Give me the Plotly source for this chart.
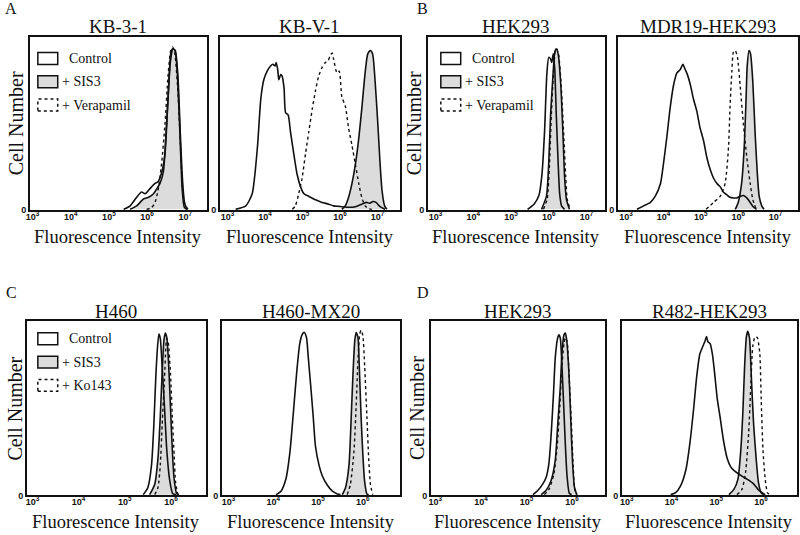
import plotly.graph_objects as go

W, H = 800, 535

# ---------------- data (x = log10 fluorescence, y = relative cell number) ----------
# A  KB-3-1
kb31_ctrl_x = [5.23, 5.40, 5.57, 5.70, 5.79, 5.92, 6.05, 6.13, 6.22, 6.31, 6.37, 6.42, 6.46, 6.51, 6.57, 6.63, 6.70, 6.76, 6.82, 6.90]
kb31_ctrl_y = [0, 0.02, 0.07, 0.10, 0.09, 0.12, 0.15, 0.16, 0.21, 0.32, 0.55, 0.77, 0.90, 0.93, 0.92, 0.80, 0.45, 0.12, 0.01, 0]
kb31_sis_x = [5.40, 5.57, 5.75, 5.88, 6.01, 6.10, 6.18, 6.27, 6.33, 6.39, 6.45, 6.52, 6.58, 6.65, 6.71, 6.77, 6.83, 6.91]
kb31_sis_y = [0, 0.02, 0.06, 0.07, 0.09, 0.12, 0.15, 0.22, 0.41, 0.64, 0.85, 0.93, 0.92, 0.77, 0.45, 0.17, 0.03, 0]
kb31_mod_x = [5.83, 5.96, 6.05, 6.13, 6.22, 6.31, 6.39, 6.46, 6.51, 6.57, 6.66, 6.73, 6.79, 6.87]
kb31_mod_y = [0, 0.01, 0.04, 0.11, 0.26, 0.49, 0.77, 0.92, 0.94, 0.90, 0.64, 0.30, 0.07, 0]

# A  KB-V-1
kbv1_ctrl_x = [3.06, 3.33, 3.50, 3.64, 3.73, 3.81, 3.90, 3.99, 4.05, 4.11, 4.14, 4.18, 4.21, 4.26, 4.30, 4.35, 4.39, 4.46, 4.52, 4.61, 4.70, 4.79, 4.88, 5.01, 5.19, 5.36, 5.54, 5.67, 5.81, 5.89, 6.07, 6.25, 6.42, 6.55, 6.62, 6.72, 6.80, 6.91, 7.04]
kbv1_ctrl_y = [0, 0.02, 0.09, 0.36, 0.64, 0.75, 0.80, 0.83, 0.84, 0.83, 0.85, 0.81, 0.75, 0.78, 0.77, 0.70, 0.56, 0.545, 0.45, 0.32, 0.20, 0.13, 0.09, 0.075, 0.055, 0.04, 0.03, 0.02, 0.017, 0.015, 0.012, 0.015, 0.03, 0.04, 0.035, 0.045, 0.04, 0.015, 0]
kbv1_sis_x = [5.89, 5.98, 6.07, 6.16, 6.25, 6.34, 6.42, 6.51, 6.58, 6.65, 6.71, 6.78, 6.85, 6.91, 6.96, 7.03, 7.09]
kbv1_sis_y = [0, 0.02, 0.07, 0.15, 0.26, 0.41, 0.58, 0.79, 0.90, 0.92, 0.90, 0.73, 0.49, 0.26, 0.11, 0.02, 0]
kbv1_mod_x = [4.57, 4.65, 4.74, 4.83, 4.92, 5.01, 5.10, 5.19, 5.27, 5.36, 5.45, 5.52, 5.58, 5.63, 5.67, 5.76, 5.82, 5.89, 5.98, 6.07, 6.16, 6.25, 6.34, 6.42, 6.51, 6.60, 6.69]
kbv1_mod_y = [0, 0.02, 0.09, 0.18, 0.32, 0.45, 0.58, 0.69, 0.77, 0.82, 0.85, 0.86, 0.89, 0.905, 0.87, 0.79, 0.80, 0.65, 0.60, 0.47, 0.37, 0.26, 0.15, 0.07, 0.02, 0.004, 0]

# B  HEK293
hekb_ctrl_x = [5.28, 5.45, 5.58, 5.66, 5.73, 5.79, 5.84, 5.89, 5.92, 5.96, 6.00, 6.04, 6.09, 6.13, 6.18, 6.26]
hekb_ctrl_y = [0, 0.03, 0.08, 0.20, 0.45, 0.78, 0.88, 0.87, 0.85, 0.90, 0.81, 0.55, 0.27, 0.09, 0.02, 0]
hekb_sis_x = [5.65, 5.78, 5.84, 5.89, 5.96, 6.00, 6.04, 6.09, 6.16, 6.22, 6.26, 6.31, 6.39]
hekb_sis_y = [0, 0.076, 0.265, 0.55, 0.80, 0.91, 0.93, 0.90, 0.72, 0.42, 0.19, 0.057, 0]
hekb_mod_x = [5.70, 5.80, 5.86, 5.91, 5.97, 6.01, 6.05, 6.10, 6.17, 6.24, 6.29, 6.33, 6.41]
hekb_mod_y = [0, 0.06, 0.26, 0.55, 0.80, 0.91, 0.93, 0.90, 0.72, 0.42, 0.19, 0.06, 0]

# B  MDR19-HEK293
mdr_ctrl_x = [3.13, 3.31, 3.49, 3.62, 3.76, 3.84, 3.93, 4.02, 4.11, 4.20, 4.29, 4.36, 4.42, 4.48, 4.56, 4.64, 4.73, 4.82, 4.91, 5.00, 5.09, 5.18, 5.27, 5.36, 5.44, 5.53, 5.62, 5.71, 5.80, 5.89, 5.98, 6.07, 6.16, 6.24, 6.33]
mdr_ctrl_y = [0, 0.02, 0.04, 0.076, 0.15, 0.265, 0.42, 0.59, 0.72, 0.79, 0.81, 0.84, 0.81, 0.78, 0.72, 0.64, 0.57, 0.47, 0.40, 0.30, 0.23, 0.18, 0.15, 0.13, 0.10, 0.085, 0.07, 0.066, 0.066, 0.075, 0.08, 0.066, 0.04, 0.015, 0]
mdr_sis_x = [5.76, 5.84, 5.93, 6.00, 6.05, 6.08, 6.13, 6.17, 6.23, 6.29, 6.35, 6.40, 6.47, 6.53]
mdr_sis_y = [0, 0.04, 0.15, 0.36, 0.64, 0.83, 0.92, 0.90, 0.74, 0.45, 0.21, 0.076, 0.02, 0]
mdr_mod_x = [4.98, 5.18, 5.36, 5.49, 5.58, 5.62, 5.67, 5.71, 5.76, 5.82, 5.89, 5.98, 6.07, 6.16, 6.23, 6.32]
mdr_mod_y = [0, 0.04, 0.076, 0.15, 0.36, 0.59, 0.80, 0.91, 0.92, 0.88, 0.72, 0.49, 0.30, 0.15, 0.057, 0]

# C  H460
h460_ctrl_x = [5.27, 5.37, 5.45, 5.50, 5.54, 5.58, 5.61, 5.64, 5.68, 5.73, 5.78, 5.84, 5.91, 5.99]
h460_ctrl_y = [0, 0.04, 0.17, 0.40, 0.66, 0.85, 0.925, 0.90, 0.74, 0.51, 0.26, 0.09, 0.005, 0]
h460_sis_x = [5.41, 5.52, 5.59, 5.64, 5.68, 5.72, 5.75, 5.78, 5.82, 5.86, 5.90, 5.94, 5.99, 6.04]
h460_sis_y = [0, 0.06, 0.21, 0.45, 0.70, 0.89, 0.93, 0.905, 0.755, 0.51, 0.26, 0.09, 0.01, 0]
h460_mod_x = [5.52, 5.59, 5.64, 5.68, 5.73, 5.76, 5.78, 5.81, 5.86, 5.90, 5.94, 5.97, 6.02]
h460_mod_y = [0, 0.04, 0.17, 0.40, 0.66, 0.85, 0.90, 0.88, 0.70, 0.45, 0.23, 0.075, 0]

# C  H460-MX20
mx20_ctrl_x = [3.93, 4.04, 4.15, 4.24, 4.31, 4.39, 4.46, 4.52, 4.56, 4.61, 4.65, 4.70, 4.76, 4.81, 4.89, 4.96, 5.07, 5.19, 5.30, 5.37]
mx20_ctrl_y = [0, 0.02, 0.09, 0.245, 0.45, 0.70, 0.87, 0.925, 0.934, 0.905, 0.79, 0.64, 0.45, 0.28, 0.17, 0.11, 0.057, 0.02, 0.004, 0]
mx20_sis_x = [5.41, 5.48, 5.56, 5.61, 5.65, 5.69, 5.72, 5.76, 5.79, 5.83, 5.87, 5.91, 5.96, 6.00]
mx20_sis_y = [0, 0.038, 0.17, 0.45, 0.70, 0.89, 0.934, 0.905, 0.74, 0.45, 0.23, 0.075, 0.004, 0]
mx20_mod_x = [5.52, 5.59, 5.67, 5.72, 5.76, 5.80, 5.83, 5.87, 5.91, 5.96, 6.00, 6.04, 6.09]
mx20_mod_y = [0, 0.057, 0.245, 0.51, 0.77, 0.925, 0.947, 0.915, 0.74, 0.45, 0.21, 0.057, 0]

# D  HEK293
hekd_ctrl_x = [5.01, 5.12, 5.23, 5.30, 5.36, 5.41, 5.46, 5.50, 5.55, 5.58, 5.61, 5.64, 5.68, 5.72, 5.76, 5.81, 5.86]
hekd_ctrl_y = [0, 0.025, 0.063, 0.10, 0.18, 0.35, 0.58, 0.79, 0.90, 0.92, 0.90, 0.775, 0.54, 0.29, 0.10, 0.006, 0]
hekd_sis_x = [5.19, 5.30, 5.41, 5.50, 5.55, 5.61, 5.65, 5.69, 5.72, 5.75, 5.80, 5.84, 5.88, 5.92, 5.97]
hekd_sis_y = [0, 0.025, 0.083, 0.20, 0.39, 0.62, 0.83, 0.92, 0.93, 0.89, 0.70, 0.43, 0.18, 0.044, 0]
hekd_mod_x = [5.26, 5.37, 5.47, 5.54, 5.60, 5.64, 5.69, 5.72, 5.76, 5.80, 5.85, 5.89, 5.93, 5.98]
hekd_mod_y = [0, 0.035, 0.12, 0.275, 0.51, 0.72, 0.87, 0.905, 0.88, 0.70, 0.43, 0.18, 0.025, 0]

# D  R482-HEK293
r482_ctrl_x = [3.85, 3.96, 4.07, 4.19, 4.28, 4.36, 4.43, 4.50, 4.56, 4.61, 4.65, 4.68, 4.73, 4.78, 4.83, 4.89, 4.95, 5.00, 5.05, 5.11, 5.19, 5.26, 5.33, 5.44, 5.56, 5.67, 5.74, 5.81, 5.89, 5.96]
r482_ctrl_y = [0, 0.011, 0.05, 0.145, 0.30, 0.49, 0.68, 0.81, 0.85, 0.88, 0.91, 0.88, 0.87, 0.81, 0.70, 0.55, 0.45, 0.36, 0.28, 0.21, 0.16, 0.14, 0.126, 0.107, 0.088, 0.069, 0.05, 0.027, 0.011, 0]
r482_sis_x = [5.15, 5.26, 5.35, 5.41, 5.46, 5.50, 5.54, 5.57, 5.61, 5.65, 5.70, 5.76, 5.81, 5.87, 5.93]
r482_sis_y = [0, 0.03, 0.088, 0.24, 0.47, 0.74, 0.91, 0.94, 0.90, 0.68, 0.41, 0.20, 0.069, 0.011, 0]
r482_mod_x = [5.33, 5.44, 5.52, 5.59, 5.64, 5.68, 5.72, 5.76, 5.79, 5.84, 5.87, 5.91, 5.96, 6.01, 6.06]
r482_mod_y = [0, 0.03, 0.126, 0.355, 0.64, 0.85, 0.90, 0.91, 0.90, 0.81, 0.55, 0.26, 0.088, 0.011, 0]

# panel titles, tick exponents, axis ranges
panel_titles = ["KB-3-1", "KB-V-1", "HEK293", "MDR19-HEK293", "H460", "H460-MX20", "HEK293", "R482-HEK293"]
decades_top = [3, 4, 5, 6, 7]
decades_bottom = [3, 4, 5, 6]
x_ranges = [[2.775, 7.41], [2.64, 7.44], [2.64, 7.33], [2.62, 7.44],
            [2.75, 6.63], [2.72, 6.70], [2.77, 6.59], [2.76, 6.67]]
legend_ab = ["Control", "+ SIS3", "+ Verapamil"]
legend_c = ["Control", "+ SIS3", "+ Ko143"]
group_letters = ["A", "B", "C", "D"]

panels = [
    (kb31_ctrl_x, kb31_ctrl_y, kb31_sis_x, kb31_sis_y, kb31_mod_x, kb31_mod_y),
    (kbv1_ctrl_x, kbv1_ctrl_y, kbv1_sis_x, kbv1_sis_y, kbv1_mod_x, kbv1_mod_y),
    (hekb_ctrl_x, hekb_ctrl_y, hekb_sis_x, hekb_sis_y, hekb_mod_x, hekb_mod_y),
    (mdr_ctrl_x, mdr_ctrl_y, mdr_sis_x, mdr_sis_y, mdr_mod_x, mdr_mod_y),
    (h460_ctrl_x, h460_ctrl_y, h460_sis_x, h460_sis_y, h460_mod_x, h460_mod_y),
    (mx20_ctrl_x, mx20_ctrl_y, mx20_sis_x, mx20_sis_y, mx20_mod_x, mx20_mod_y),
    (hekd_ctrl_x, hekd_ctrl_y, hekd_sis_x, hekd_sis_y, hekd_mod_x, hekd_mod_y),
    (r482_ctrl_x, r482_ctrl_y, r482_sis_x, r482_sis_y, r482_mod_x, r482_mod_y),
]

# ---------------- layout geometry (pixels) ----------------
frames_px = [(26, 204, 37, 212), (217, 398, 37, 212), (426, 604, 37, 212), (617, 798, 37, 212),
             (23, 203, 324, 500), (219, 398, 324, 500), (429, 604, 324, 500), (621, 797, 324, 500)]

def px(x):
    return x / W

def py(y):
    return 1 - y / H

SERIF = "Liberation Serif"
SANS = "Liberation Sans"
FILL = "#dcdcdc"
INK = "#111111"

fig = go.Figure()
layout = dict(width=W, height=H, margin=dict(l=0, r=0, t=0, b=0),
              paper_bgcolor="white", plot_bgcolor="white", showlegend=False)
annotations = []
shapes = []

for i, (cx, cy, sx, sy, mx, my) in enumerate(panels):
    n = i + 1
    xa = "x" if n == 1 else f"x{n}"
    ya = "y" if n == 1 else f"y{n}"
    x0, x1, y0, y1 = frames_px[i]
    top = i < 4
    dec = decades_top if top else decades_bottom
    fig.add_trace(go.Scatter(x=sx, y=sy, xaxis=xa, yaxis=ya, mode="lines", fill="tozeroy",
                             fillcolor=FILL, line=dict(color=INK, width=1.6, shape="spline", smoothing=0.6)))
    fig.add_trace(go.Scatter(x=mx, y=my, xaxis=xa, yaxis=ya, mode="lines",
                             line=dict(color=INK, width=1.4, dash="dot", shape="spline", smoothing=0.6)))
    fig.add_trace(go.Scatter(x=cx, y=cy, xaxis=xa, yaxis=ya, mode="lines",
                             line=dict(color=INK, width=1.6, shape="spline", smoothing=0.6)))
    layout["xaxis" if n == 1 else f"xaxis{n}"] = dict(
        domain=[px(x0), px(x1)], anchor=ya, range=x_ranges[i],
        tickvals=dec, ticktext=[f"<b>10<sup>{d}</sup></b>" for d in dec],
        tickfont=dict(family=SANS, size=9, color=INK), ticks="",
        ticklabelshift=-6, ticklabelstandoff=-3,
        showline=True, mirror=True, linecolor=INK, linewidth=1.5,
        showgrid=False, zeroline=False)
    layout["yaxis" if n == 1 else f"yaxis{n}"] = dict(
        domain=[py(y1), py(y0)], anchor=xa, range=[-0.004, 1.0],
        tickvals=[0], ticktext=["<b>0</b>"], tickfont=dict(family=SANS, size=9, color=INK),
        ticks="", ticklabelshift=1, showline=True, mirror=True, linecolor=INK, linewidth=1.5,
        showgrid=False, zeroline=False)
    # panel title
    annotations.append(dict(x=px((x0 + x1) / 2), y=py(y0 - 10), xref="paper", yref="paper",
                            text=panel_titles[i], showarrow=False, xanchor="center", yanchor="middle",
                            font=dict(family=SERIF, size=19, color=INK)))
    # x axis title
    annotations.append(dict(x=px((x0 + x1) / 2), y=py(y1 + 27), xref="paper", yref="paper",
                            text="Fluorescence Intensity", showarrow=False, xanchor="center", yanchor="middle",
                            font=dict(family=SERIF, size=18.5, color=INK)))
    # y axis title on left panel of each pair
    if i % 2 == 0:
        annotations.append(dict(x=px(max(x0 - 14, 11.5)), y=py((y0 + y1) / 2), xref="paper", yref="paper",
                                text="Cell Number", showarrow=False, textangle=-90,
                                xanchor="center", yanchor="middle",
                                font=dict(family=SERIF, size=20, color=INK)))

# group letters
for letter, (lx, ly) in zip(group_letters, [(7, 9), (421, 9), (8, 295), (421, 295)]):
    annotations.append(dict(x=px(lx), y=py(ly), xref="paper", yref="paper", text=letter,
                            showarrow=False, xanchor="center", yanchor="middle",
                            font=dict(family=SERIF, size=16, color=INK)))

# legends (panels A, B, C left)
for (bx, by, labels) in [(34, 53, legend_ab), (439, 53, legend_ab), (34, 336, legend_c)]:
    styles = [dict(fill="white", dash="solid"), dict(fill=FILL, dash="solid"), dict(fill="white", dash="dot")]
    for k, (lab, st) in enumerate(zip(labels, styles)):
        top_y = by + k * 23.5
        shapes.append(dict(type="rect", xref="paper", yref="paper",
                           x0=px(bx), x1=px(bx + 20), y0=py(top_y + 12), y1=py(top_y),
                           fillcolor=st["fill"], line=dict(color=INK, width=1.5, dash=st["dash"])))
        tx = bx + 29 if k == 0 else bx + 22
        annotations.append(dict(x=px(tx), y=py(top_y + 6), xref="paper", yref="paper", text=lab,
                                showarrow=False, xanchor="left", yanchor="middle",
                                font=dict(family=SERIF, size=14, color=INK)))

layout["annotations"] = annotations
layout["shapes"] = shapes
fig.update_layout(**layout)
fig.write_html("out.html", config={"displayModeBar": False},
               post_script="document.body.style.margin='0';document.body.style.overflow='hidden';")
